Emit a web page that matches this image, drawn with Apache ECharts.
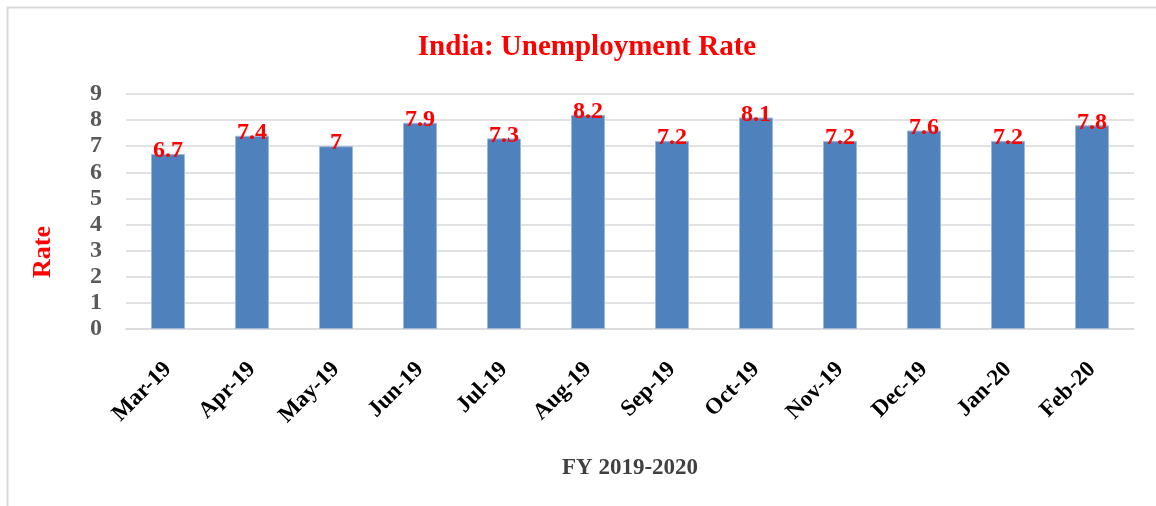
<!DOCTYPE html>
<html>
<head>
<meta charset="utf-8">
<script src="https://cdn.jsdelivr.net/npm/echarts@6/dist/echarts.min.js"></script>
<style>
  html, body { margin: 0; padding: 0; background: #fff; }
  #chart { width: 1156px; height: 506px; }
</style>
</head>
<body>
<div id="chart"></div>
<script>
const months = ["Mar-19", "Apr-19", "May-19", "Jun-19", "Jul-19", "Aug-19", "Sep-19", "Oct-19", "Nov-19", "Dec-19", "Jan-20", "Feb-20"]
const rates = [6.7, 7.4, 7, 7.9, 7.3, 8.2, 7.2, 8.1, 7.2, 7.6, 7.2, 7.8]

const serif = "'Liberation Serif', 'Times New Roman', serif"

const chart = echarts.init(document.getElementById("chart"))

const option = {
  animation: false,
  title: {
    text: "India: Unemployment Rate",
    left: 582,
    top: 28,
    textAlign: "center",
    textStyle: { color: "#ff0000", fontFamily: serif, fontWeight: "bold", fontSize: 29 }
  },
  graphic: [
    {
      type: "rect",
      left: 5,
      top: 5,
      shape: { width: 1170, height: 530 },
      style: { fill: "none", stroke: "#d9d9d9", lineWidth: 2 }
    },
    {
      // axis title sits lower than the plot centre in the original
      type: "text",
      left: 30,
      top: 226,
      rotation: Math.PI / 2,
      style: {
        text: "Rate",
        fill: "#ff0000",
        font: "bold 26px " + serif
      }
    }
  ],
  grid: { left: 126, right: 22, top: 94, bottom: 177 },
  xAxis: {
    type: "category",
    data: months,
    name: "FY 2019-2020",
    nameLocation: "middle",
    nameGap: 128,
    nameTextStyle: { color: "#404040", fontFamily: serif, fontWeight: "bold", fontSize: 23 },
    axisTick: { show: false },
    axisLine: { lineStyle: { color: "#d9d9d9", width: 1.5 } },
    axisLabel: {
      rotate: 45,
      margin: 37,
      interval: 0,
      color: "#000",
      fontFamily: serif,
      fontWeight: "bold",
      fontSize: 23
    }
  },
  yAxis: {
    type: "value",
    min: 0,
    max: 9,
    interval: 1,
    axisLabel: { color: "#595959", fontFamily: serif, fontWeight: "bold", fontSize: 24, margin: 24 },
    splitLine: { lineStyle: { color: "#d9d9d9", width: 1.5 } }
  },
  series: [
    {
      type: "bar",
      data: rates,
      barWidth: 34,
      itemStyle: { color: "#4f81bd", borderColor: "#9bb7da", borderWidth: 1 },
      label: {
        show: true,
        position: "top",
        distance: -9,
        color: "#ff0000",
        fontFamily: serif,
        fontWeight: "bold",
        fontSize: 24
      }
    }
  ]
}

chart.setOption(option)
</script>
</body>
</html>
